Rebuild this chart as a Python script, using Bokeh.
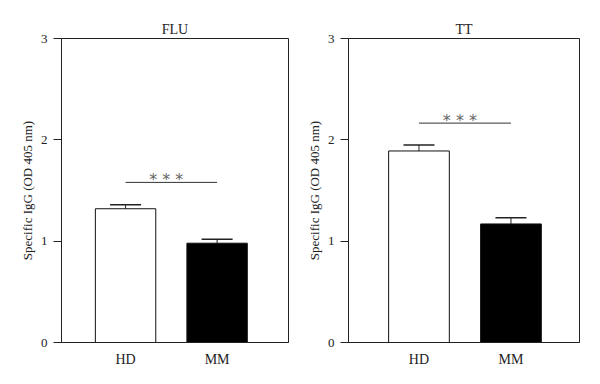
from bokeh.plotting import figure
from bokeh.models import Range1d, FixedTicker, ColumnDataSource, Whisker, TeeHead
from bokeh.layouts import row
from bokeh.embed import file_html
from bokeh.resources import INLINE
from bokeh.core.properties import value

categories = ["HD", "MM"]
flu_means = [1.32, 0.98]
flu_err = [0.04, 0.04]
flu_sig = 1.58
tt_means = [1.89, 1.17]
tt_err = [0.06, 0.06]
tt_sig = 2.165
y_ticks = [0, 1, 2, 3]

FONT = "Liberation Serif"


def make_panel(title, means, errs, sig, x_start, x_end, border_left, border_right):
    p = figure(width=300, height=384, output_backend="svg", toolbar_location=None,
               x_range=Range1d(x_start, x_end), y_range=Range1d(0, 3),
               min_border_left=border_left, min_border_right=border_right,
               min_border_top=38, min_border_bottom=42, title=title)
    p.title.align = "center"
    p.title.text_font = FONT
    p.title.text_font_style = "normal"
    p.title.text_font_size = "14px"
    p.title.text_color = "#222222"
    p.title.standoff = 4
    p.xgrid.visible = False
    p.ygrid.visible = False
    p.outline_line_color = "#222222"
    p.outline_line_width = 1
    p.background_fill_color = "white"
    p.border_fill_color = "white"

    xs = list(range(len(categories)))
    src = ColumnDataSource(dict(x=xs, top=means, upper=[m + e for m, e in zip(means, errs)],
                                fill=["white", "black"]))

    w = Whisker(base="x", upper="upper", lower="top", source=src, dimension="height",
                line_color="#222222", line_width=1,
                upper_head=TeeHead(size=31, line_color="#222222", line_width=1.5),
                lower_head=None)
    p.add_layout(w)
    p.vbar(x="x", top="top", width=0.66, bottom=0, source=src, fill_color="fill",
           line_color="#111111", line_width=1)

    p.segment(x0=[xs[0]], y0=[sig], x1=[xs[1]], y1=[sig], line_color="#333333", line_width=1)
    p.text(x=[(xs[0] + xs[1]) / 2], y=[sig], text=["*  *  *"], text_align="center",
           text_baseline="alphabetic", y_offset=-3, text_font=value("DejaVu Sans"),
           text_font_size="16px", text_color="#666666")

    yax = p.yaxis[0]
    yax.ticker = FixedTicker(ticks=y_ticks)
    yax.minor_tick_line_color = None
    yax.major_tick_out = 8
    yax.major_tick_in = 0
    yax.major_label_standoff = 6
    yax.major_label_text_font = FONT
    yax.major_label_text_font_size = "13px"
    yax.major_label_text_color = "#222222"
    yax.axis_label = "Specific IgG (OD 405 nm)"
    yax.axis_label_text_font = FONT
    yax.axis_label_text_font_style = "normal"
    yax.axis_label_text_font_size = "13px"
    yax.axis_label_text_color = "#222222"
    yax.axis_label_standoff = 3
    yax.axis_line_color = "#222222"
    yax.major_tick_line_color = "#222222"

    xax = p.xaxis[0]
    xax.ticker = FixedTicker(ticks=xs)
    xax.major_label_overrides = {i: c for i, c in zip(xs, categories)}
    xax.minor_tick_line_color = None
    xax.major_tick_line_color = None
    xax.major_tick_out = 0
    xax.major_tick_in = 0
    xax.major_label_standoff = 9
    xax.major_label_text_font = FONT
    xax.major_label_text_font_size = "14px"
    xax.major_label_text_color = "#222222"
    xax.axis_line_color = "#222222"
    return p


p1 = make_panel("FLU", flu_means, flu_err, flu_sig, -0.70, 1.78, 61, 12)
p2 = make_panel("TT", tt_means, tt_err, tt_sig, -0.766, 1.745, 48, 21)

layout = row(p1, p2)
open("out.html", "w").write(file_html(layout, INLINE))
